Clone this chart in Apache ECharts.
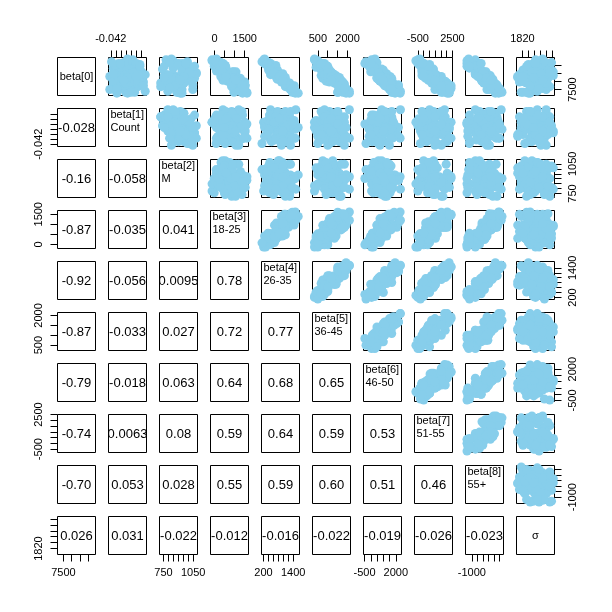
<!DOCTYPE html>
<html><head><meta charset="utf-8">
<script src="https://cdn.jsdelivr.net/npm/echarts@6/dist/echarts.min.js"></script>
<style>html,body{margin:0;padding:0;background:#fff}#c{width:612px;height:612px}</style>
</head><body><div id="c"></div>
<script>
// ---- data (posterior draws, read/estimated from the picture) ----
const varNames = ['beta[0]','beta[1]','beta[2]','beta[3]','beta[4]','beta[5]','beta[6]','beta[7]','beta[8]','\u03c3'];
const varSubs  = ['','Count','M','18-25','26-35','36-45','46-50','51-55','55+',''];

const beta0 = [7898,8962,8178,7338,8570,8178,9354,7842,8346,8290, 7506,8682,9018,8010,7282,8738,8066,7786,9074,7954, 8570,7898,9298,7954,8122,8458,7674,8850,8346,7282, 8402,8178,8906,7730,8458,8122,7730,8626,7954,8458, 8290,9074,7674,8682,7786,8290,8010,8962,8290,9242,
  8234,7898,8850,8066,7562,8570,8402,7506,9074,8234, 8346,7730,8682,8178,9074,8290,8122,8794,7338,8570, 7842,8514,8234,8906,7394,8346,7730,8962,8178,7898, 9130,7786,8178,8066,9186,7954,8570,8178,8906,7338, 8458,8402,7898,9074,7730,8514,8234,7562,8290,8066];
const beta1 = [-0.0326,-0.0403,-0.0340,-0.0361,-0.0298,-0.0375,-0.0354,-0.0312,-0.0417,-0.0333, -0.0389,-0.0347,-0.0305,-0.0368,-0.0396,-0.0319,-0.0382,-0.0354,-0.0340,-0.0291, -0.0361,-0.0410,-0.0333,-0.0375,-0.0312,-0.0347,-0.0389,-0.0326,-0.0368,-0.0354, -0.0284,-0.0403,-0.0340,-0.0382,-0.0319,-0.0361,-0.0333,-0.0396,-0.0305,-0.0375, -0.0424,-0.0347,-0.0312,-0.0368,-0.0354,-0.0326,-0.0410,-0.0340,-0.0389,-0.0333,
  -0.0375,-0.0312,-0.0326,-0.0354,-0.0396,-0.0361,-0.0340,-0.0424,-0.0319,-0.0382, -0.0291,-0.0368,-0.0333,-0.0347,-0.0389,-0.0305,-0.0354,-0.0410,-0.0326,-0.0375, -0.0340,-0.0396,-0.0312,-0.0361,-0.0284,-0.0382,-0.0347,-0.0403,-0.0333,-0.0298, -0.0368,-0.0354,-0.0389,-0.0319,-0.0417,-0.0347,-0.0326,-0.0375,-0.0305,-0.0340, -0.0410,-0.0312,-0.0361,-0.0382,-0.0291,-0.0333,-0.0354,-0.0396,-0.0319,-0.0368];
const beta2 = [866,992,794,902,956,1064,830,884,1010,758, 938,1028,848,974,920,740,992,812,902,866, 1046,956,776,920,830,1082,884,1010,794,938, 848,974,758,902,1028,812,920,956,866,1064, 830,992,722,938,884,794,902,974,1010,848,
  938,722,1010,830,902,974,776,1046,884,956, 920,812,992,866,938,758,1028,848,902,1010, 830,1082,884,938,794,974,740,902,866,956, 812,1046,920,776,992,848,938,830,1064,884, 1028,794,902,974,866,1010,758,812,956,920];
const beta3 = [853,529,961,1393,961,745,97,853,529,1069, 961,529,97,637,1609,529,421,1501,-11,853, 1069,853,-119,1501,637,529,1069,421,961,1393, 421,1285,-11,853,853,853,1501,97,1393,421, 1069,421,853,421,1501,421,853,529,313,-119,
  565,1045,565,725,1445,245,965,1205,5,965, 565,1525,325,725,165,885,885,165,965,885, 1125,405,965,245,1205,645,1365,245,725,885, 325,885,645,1125,85,885,405,965,325,1605, 485,645,805,405,1365,405,485,1445,565,1045];
const beta4 = [1085,485,805,1485,645,965,245,1085,925,1005, 1285,405,445,965,1485,605,965,1085,325,1085, 725,1085,205,1045,885,845,1245,405,925,1605, 485,1045,445,1205,765,765,1445,645,925,765, 925,245,1085,765,1285,885,1005,485,725,285,
  875,1260,385,1050,1435,525,910,1295,490,840, 770,1295,735,1050,245,980,980,525,1435,735, 1050,805,980,420,1505,805,1260,700,735,1085, 420,1225,910,980,140,1155,735,980,455,1365, 980,700,1085,350,1295,630,1085,1365,840,980];
const beta5 = [1674,666,1422,1758,750,1254,330,1842,1086,1254, 1926,666,750,918,2094,918,1086,1674,834,1086, 1086,1590,330,1590,1002,1254,1674,414,1422,1926, 834,1086,1002,1590,1254,1002,1842,834,1338,1254, 1002,750,1590,750,1674,1422,1254,498,1338,498,
  834,1674,666,1674,1926,750,1086,1842,750,1254, 666,1758,1086,1254,498,1086,1506,1002,1506,1170, 1506,750,1590,750,2094,750,1590,918,1422,1338, 414,1674,750,1506,498,1758,834,1254,918,1506, 1254,834,1758,666,1506,1002,1002,1842,1170,1170];
const beta6 = [1273,335,1675,1675,871,603,335,1675,603,1541, 1809,1005,67,737,2345,871,1005,1407,-469,1675, 1005,1273,67,1541,603,871,2211,67,1139,1943, 871,737,201,2077,1005,737,1809,737,1407,1273, 737,201,1273,871,2211,871,737,469,871,201,
  870,1120,120,1495,1745,745,495,1495,120,495, 870,1745,245,1620,-130,620,1620,120,1745,995, 995,620,995,-130,2370,745,1370,370,495,1495, 495,1370,870,1120,-380,1745,-5,1245,245,1870, 620,620,1620,-5,1120,620,1120,1620,745,995];
const beta7 = [1709,519,689,2219,519,179,-331,1879,1199,689, 2049,179,519,859,2049,859,689,1709,9,859, 179,2049,-501,1369,859,859,2049,519,349,2219, 519,859,349,1539,179,859,2389,349,1029,519, 1539,-501,1539,-161,2219,859,1879,-331,1029,-671,
  280,1680,0,840,2380,280,980,980,-420,980, -140,1820,140,840,0,840,560,280,1680,420, 1820,0,980,280,1820,420,980,420,840,840, -280,1960,420,420,-280,1400,280,560,420,1540, 980,980,700,-140,1540,-140,700,2240,0,980];
const beta8 = [64,-386,214,1714,-86,-236,-1286,1114,214,364, 364,-386,-386,-86,1414,-536,364,1264,-1436,514, -86,214,-686,814,364,-686,964,-536,664,1114, -686,364,-1436,1114,64,514,964,-536,814,-686, 364,-1286,1264,-386,814,214,-86,-686,214,-1436,
  -11,889,-1211,739,1189,139,289,589,-311,289, -311,589,-161,739,-1361,139,889,-1211,1339,289, 589,-311,589,-1211,1639,439,589,-611,139,1039, -1361,1189,289,289,-1211,439,-161,739,-1211,1489, 139,-311,289,-161,739,-11,289,1489,-461,739];
const sigma = [1870,1882,1834,1816,1900,1852,1888,1864,1828,1906, 1858,1918,1840,1876,1846,1894,1822,1870,1912,1834, 1882,1852,1864,1810,1888,1828,1876,1858,1924,1840, 1900,1864,1846,1906,1816,1876,1852,1894,1834,1870, 1882,1858,1912,1822,1888,1864,1840,1900,1804,1876,
  1882,1834,1876,1816,1888,1864,1852,1900,1870,1804, 1846,1906,1828,1882,1858,1894,1840,1876,1822,1924, 1864,1852,1888,1834,1870,1900,1846,1882,1816,1858, 1918,1876,1864,1840,1894,1828,1852,1906,1870,1834, 1882,1810,1900,1864,1846,1912,1858,1876,1822,1888];

// axis ranges (data range + 4%)
const axisMin = [7140, -0.0429, 710, -196, 120, 230, -579, -792, -1570, 1800];
const axisMax = [9440, -0.0279, 1094, 1686, 1656, 2150, 2455, 2510, 1848, 1928];
// tick marks and which tick labels are printed
const tickValues = [
  [7500,8000,8500,9000],
  [-0.042,-0.040,-0.038,-0.036,-0.034,-0.032,-0.030],
  [750,800,850,900,950,1000,1050],
  [0,500,1000,1500],
  [200,400,600,800,1000,1200,1400],
  [500,1000,1500,2000],
  [-500,0,500,1000,1500,2000],
  [-500,0,500,1000,1500,2000,2500],
  [-1000,-500,0,500,1000,1500],
  [1820,1840,1860,1880,1900,1920]
];
const tickLabels = [
  [7500],[-0.042],[750,1050],[0,1500],[200,1400],[500,2000],[-500,2000],[-500,2500],[-1000],[1820]
];
// correlations shown in the lower panels (row i, columns 0..i-1)
const corrRow1 = ['-0.028'];
const corrRow2 = ['-0.16','-0.058'];
const corrRow3 = ['-0.87','-0.035','0.041'];
const corrRow4 = ['-0.92','-0.056','0.0095','0.78'];
const corrRow5 = ['-0.87','-0.033','0.027','0.72','0.77'];
const corrRow6 = ['-0.79','-0.018','0.063','0.64','0.68','0.65'];
const corrRow7 = ['-0.74','0.0063','0.08','0.59','0.64','0.59','0.53'];
const corrRow8 = ['-0.70','0.053','0.028','0.55','0.59','0.60','0.51','0.46'];
const corrRow9 = ['0.026','0.031','-0.022','-0.012','-0.016','-0.022','-0.019','-0.026','-0.023'];

// ---- build ----
const samples = [beta0,beta1,beta2,beta3,beta4,beta5,beta6,beta7,beta8,sigma];
const corr = [[],corrRow1,corrRow2,corrRow3,corrRow4,corrRow5,corrRow6,corrRow7,corrRow8,corrRow9];
const N = 10;
const P0 = 57.5, STEP = 51, SIZE = 38;
const FONT = '"Liberation Sans", Arial, Helvetica, sans-serif';
const grids = [], xAxes = [], yAxes = [], series = [], graphics = [];

function axisDef(dim, k, v, edge) {
  const a = {
    gridIndex: k, type: 'value', min: axisMin[v], max: axisMax[v],
    splitLine: {show: false}, axisLine: {show: false, onZero: false},
    axisTick: {show: false}, axisLabel: {show: false}
  };
  if (edge) {
    a.position = edge;
    a.axisTick = {show: true, length: 7, inside: false, lineStyle: {color: '#000', width: 1}, customValues: tickValues[v]};
    a.axisLabel = {show: true, customValues: tickLabels[v], formatter: (x) => String(x),
      color: '#000', fontSize: 11, fontFamily: FONT, margin: 13, rotate: dim === 'y' ? 90 : 0};
  }
  return a;
}

for (let r = 0; r < N; r++) {
  for (let c = 0; c < N; c++) {
    const k = r * N + c;
    const left = P0 + STEP * c, top = P0 + STEP * r;
    grids.push({left: left, top: top, width: SIZE, height: SIZE, show: true, borderColor: '#000', borderWidth: 1,
      backgroundColor: 'transparent', containLabel: false, outerBoundsMode: 'none'});
    const xEdge = (r === 0 && c % 2 === 1) ? 'top' : (r === N - 1 && c % 2 === 0) ? 'bottom' : null;
    const yEdge = (c === 0 && r % 2 === 1) ? 'left' : (c === N - 1 && r % 2 === 0) ? 'right' : null;
    xAxes.push(axisDef('x', k, c, xEdge));
    yAxes.push(axisDef('y', k, r, yEdge));
    if (c > r) {
      const xs = samples[c], ys = samples[r];
      series.push({
        type: 'scatter', xAxisIndex: k, yAxisIndex: k, silent: true, animation: false,
        symbol: 'circle', symbolSize: 9, clip: false,
        itemStyle: {color: '#87CEEB', opacity: 1},
        data: xs.map((x, i) => [x, ys[i]])
      });
    } else if (c < r) {
      graphics.push({type: 'text', x: left + SIZE / 2, y: top + SIZE / 2 + 0.5, silent: true,
        style: {text: corr[r][c], fontSize: 13, fontFamily: FONT, fill: '#000', align: 'center', verticalAlign: 'middle'}});
    } else {
      if (varSubs[r] === '') {
        graphics.push({type: 'text', x: left + SIZE / 2, y: top + SIZE / 2, silent: true,
          style: {text: varNames[r], fontSize: 11, fontFamily: FONT, fill: '#000', align: 'center', verticalAlign: 'middle'}});
      } else {
        graphics.push({type: 'text', x: left + 2, y: top, silent: true,
          style: {text: varNames[r] + '\n' + varSubs[r], fontSize: 11, lineHeight: 13, fontFamily: FONT, fill: '#000', align: 'left', verticalAlign: 'top'}});
      }
    }
  }
}

const chart = echarts.init(document.getElementById('c'), null, {renderer: 'canvas'});
chart.setOption({
  animation: false,
  backgroundColor: '#fff',
  grid: grids, xAxis: xAxes, yAxis: yAxes, series: series, graphic: graphics
});
</script></body></html>
